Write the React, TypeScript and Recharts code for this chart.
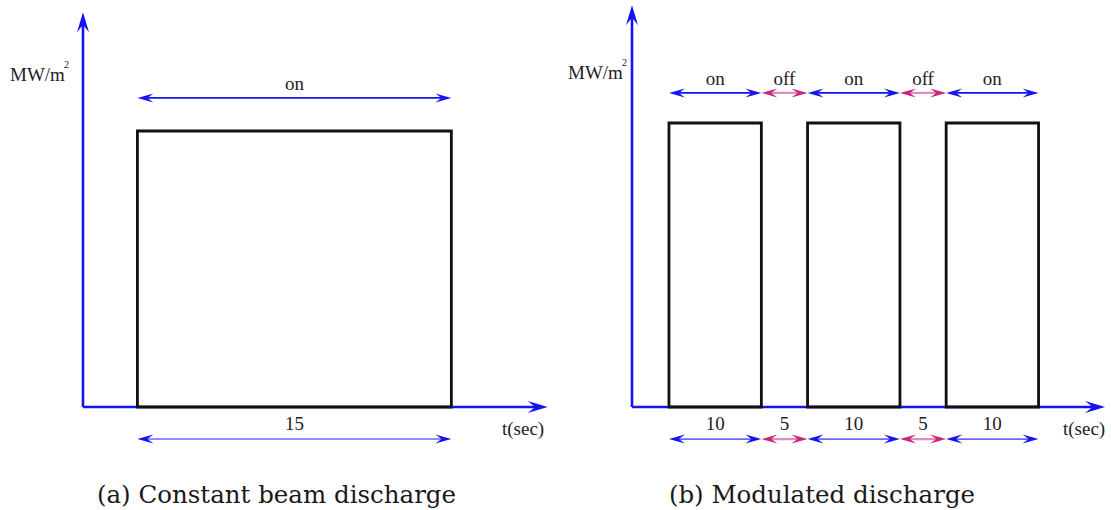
import { ComposedChart, Line, XAxis, YAxis, ReferenceLine } from 'recharts'

// (a) constant beam: one pulse
const constStart = 2.6
const constPhases = ['on']
const constDurations = [15]

// (b) modulated: on/off/on/off/on
const modStart = 4
const modPhases = ['on', 'off', 'on', 'off', 'on']
const modDurations = [10, 5, 10, 5, 10]

const yLabel = 'MW/m'
const xLabel = 't(sec)'
const captions = ['(a) Constant beam discharge', '(b) Modulated discharge']

const BLUE = '#1414f2'
const BLUE_LIGHT = '#6868ff'
const PINK = '#c8287a'
const PINK_LIGHT = '#e58cbf'
const SERIF = '"Liberation Serif", "Times New Roman", serif'

type Seg = { phase: string; dur: number; from: number; to: number }

function segments(start: number, phases: string[], durs: number[]): Seg[] {
  let t = start
  return phases.map((phase, i) => {
    const s = { phase, dur: durs[i], from: t, to: t + durs[i] }
    t += durs[i]
    return s
  })
}

function pulseData(s: Seg) {
  return [
    { t: s.from, v: 0 },
    { t: s.from, v: 1 },
    { t: s.to, v: 1 },
    { t: s.to, v: 0 },
    { t: s.from, v: 0 },
  ]
}

function head(x: number, y: number, dx: number, dy: number, len: number, wid: number, color: string) {
  const nx = -dy
  const ny = dx
  const bx = x - dx * len
  const by = y - dy * len
  const mx = x - dx * len * 0.62
  const my = y - dy * len * 0.62
  const pts = [
    [x, y],
    [bx + nx * wid / 2, by + ny * wid / 2],
    [mx, my],
    [bx - nx * wid / 2, by - ny * wid / 2],
  ]
  return <polygon points={pts.map((p) => p.join(',')).join(' ')} fill={color} />
}

// axis arrow with a single head at the far end
const axisShape = (label?: React.ReactNode) => (p: any) => {
  const { x1, y1, x2, y2 } = p
  const L = Math.hypot(x2 - x1, y2 - y1) || 1
  const dx = (x2 - x1) / L
  const dy = (y2 - y1) / L
  return (
    <g>
      <line x1={x1} y1={y1} x2={x2 - dx * 8} y2={y2 - dy * 8} stroke={BLUE} strokeWidth={2.6} />
      {head(x2, y2, dx, dy, 20, 12, BLUE)}
      {label}
    </g>
  )
}

// double headed dimension arrow with its text above
const dimShape = (text: string, off: boolean, bottom: boolean) => (p: any) => {
  const { x1, y1, x2, y2 } = p
  const headColor = off ? PINK : BLUE
  const lineColor = off ? PINK_LIGHT : bottom ? BLUE_LIGHT : BLUE
  return (
    <g>
      <line x1={x1 + 6} y1={y1} x2={x2 - 6} y2={y2} stroke={lineColor} strokeWidth={off ? 2.2 : 1.6} />
      {head(x1, y1, -1, 0, 16, 9, headColor)}
      {head(x2, y2, 1, 0, 16, 9, headColor)}
      <text x={(x1 + x2) / 2} y={y1 - (bottom ? 9 : 8)} textAnchor="middle" fontFamily={SERIF} fontSize={19} fill="#222">
        {text}
      </text>
    </g>
  )
}

type PanelProps = {
  width: number
  height: number
  origin: number // px of t = 0
  baseY: number // px of value 0
  xScale: number // px per second
  yScale: number // px per unit
  segs: Seg[]
  xEnd: number
  yTop: number
  topRow: number
  bottomRow: number
  yLabelPos: [number, number]
  xLabelPos: [number, number]
}

function Panel(props: PanelProps) {
  const { width, height, origin, baseY, xScale, yScale, segs, xEnd, yTop, topRow, bottomRow } = props
  const xDomain = [-origin / xScale, (width - origin) / xScale]
  const yDomain = [-(height - baseY) / yScale, baseY / yScale]
  const [lx, ly] = props.yLabelPos
  const [tx, ty] = props.xLabelPos
  const yLab = (
    <g fontFamily={SERIF} fill="#222">
      <text x={lx} y={ly} fontSize={19}>{yLabel}</text>
      <text x={lx + 54} y={ly - 13} fontSize={10}>2</text>
    </g>
  )
  const xLab = (
    <text x={tx} y={ty} fontFamily={SERIF} fontSize={19} fill="#222">{xLabel}</text>
  )
  return (
    <ComposedChart width={width} height={height} margin={{ top: 0, right: 0, bottom: 0, left: 0 }}>
      <XAxis type="number" dataKey="t" domain={xDomain} allowDataOverflow hide />
      <YAxis type="number" domain={yDomain} allowDataOverflow hide />
      <ReferenceLine ifOverflow="visible" segment={[{ x: 0, y: 0 }, { x: xEnd, y: 0 }]} shape={axisShape(xLab)} />
      <ReferenceLine ifOverflow="visible" segment={[{ x: 0, y: 0 }, { x: 0, y: yTop }]} shape={axisShape(yLab)} />
      {segs.map((s, i) => (
        <ReferenceLine
          key={'top' + i}
          ifOverflow="visible"
          segment={[{ x: s.from, y: topRow }, { x: s.to, y: topRow }]}
          shape={dimShape(s.phase, s.phase === 'off', false)}
        />
      ))}
      {segs.map((s, i) => (
        <ReferenceLine
          key={'bot' + i}
          ifOverflow="visible"
          segment={[{ x: s.from, y: bottomRow }, { x: s.to, y: bottomRow }]}
          shape={dimShape(String(s.dur), s.phase === 'off', true)}
        />
      ))}
      {segs
        .filter((s) => s.phase === 'on')
        .map((s, i) => (
          <Line
            key={'p' + i}
            data={pulseData(s)}
            dataKey="v"
            type="linear"
            stroke="#111"
            strokeWidth={2.8}
            strokeLinecap="square"
            strokeLinejoin="miter"
            dot={false}
            activeDot={false}
            isAnimationActive={false}
          />
        ))}
    </ComposedChart>
  )
}

export default function App() {
  const a = segments(constStart, constPhases, constDurations)
  const b = segments(modStart, modPhases, modDurations)
  return (
    <div style={{ position: 'absolute', left: 0, top: 0, width: 1111, height: 510, background: '#fff', overflow: 'hidden' }}>
      <div style={{ position: 'absolute', left: 0, top: 0 }}>
        <Panel
          width={560}
          height={470}
          origin={83}
          baseY={407}
          xScale={20.93}
          yScale={276}
          segs={a}
          xEnd={22.2}
          yTop={1.43}
          topRow={1.12}
          bottomRow={-0.116}
          yLabelPos={[10, 81]}
          xLabelPos={[502, 435]}
        />
      </div>
      <div style={{ position: 'absolute', left: 560, top: 0 }}>
        <Panel
          width={551}
          height={470}
          origin={72}
          baseY={407}
          xScale={9.24}
          yScale={284}
          segs={b}
          xEnd={51.2}
          yTop={1.415}
          topRow={1.106}
          bottomRow={-0.113}
          yLabelPos={[8, 79]}
          xLabelPos={[503, 435]}
        />
      </div>
      <svg width={1111} height={510} style={{ position: 'absolute', left: 0, top: 0, pointerEvents: 'none' }}>
        <text x={276.5} y={503} textAnchor="middle" fontFamily='"DejaVu Serif", serif' fontSize={24.5} fill="#1a1a1a">
          {captions[0]}
        </text>
        <text x={822} y={503} textAnchor="middle" fontFamily='"DejaVu Serif", serif' fontSize={24.5} fill="#1a1a1a">
          {captions[1]}
        </text>
      </svg>
    </div>
  )
}
